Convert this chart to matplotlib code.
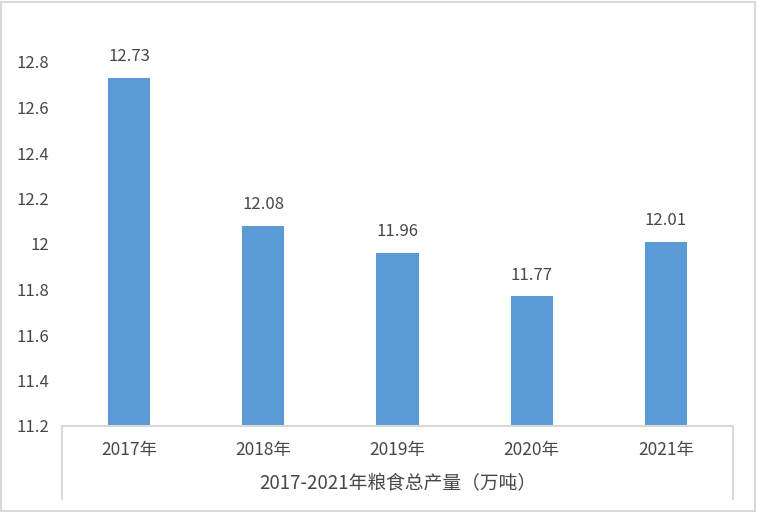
import matplotlib
matplotlib.use("Agg")
import matplotlib.pyplot as plt
from matplotlib.patches import Rectangle

plt.rcParams['font.family'] = ['Noto Sans CJK SC', 'DejaVu Sans']

categories = ["2017年", "2018年", "2019年", "2020年", "2021年"]
values = [12.73, 12.08, 11.96, 11.77, 12.01]
value_labels = ["12.73", "12.08", "11.96", "11.77", "12.01"]
group_label = "2017-2021年粮食总产量（万吨）"
yticks = [11.2, 11.4, 11.6, 11.8, 12.0, 12.2, 12.4, 12.6, 12.8]
ytick_labels = ["11.2", "11.4", "11.6", "11.8", "12", "12.2", "12.4", "12.6", "12.8"]

W, H = 757, 512
fig = plt.figure(figsize=(W / 100, H / 100), dpi=100)
fig.patch.set_facecolor("white")
fig.patches.append(Rectangle((0.5 / W, 1.5 / H), (W - 2.5) / W, (H - 3) / H,
                             transform=fig.transFigure, fill=False,
                             edgecolor="#d9d9d9", linewidth=1.5))

left, right, top, bottom = 62, 733, 62, 426
ax = fig.add_axes([left / W, 1 - bottom / H, (right - left) / W, (bottom - top) / H])

text_color = "#474747"
grid_color = "#d9d9d9"
fs = 12

x = list(range(len(categories)))
ax.bar(x, [v - 11.2 for v in values], bottom=11.2, width=0.315, color="#5B9BD5")
ax.set_xlim(-0.5, len(categories) - 0.5)
ax.set_ylim(11.2, 12.8)

for xi, v, lab in zip(x, values, value_labels):
    ax.annotate(lab, (xi, v), xytext=(0, 12), textcoords="offset points",
                ha="center", va="baseline", fontsize=fs, color=text_color,
                annotation_clip=False)

ax.set_yticks(yticks)
ax.set_yticklabels(ytick_labels, fontsize=fs, color=text_color)
ax.tick_params(axis="y", length=0, pad=9)
ax.set_xticks(x)
ax.set_xticklabels(categories, fontsize=12.5, color=text_color)
ax.tick_params(axis="x", length=0, pad=11)

for s in ["top", "right", "left"]:
    ax.spines[s].set_visible(False)
ax.spines["bottom"].set_color(grid_color)
ax.spines["bottom"].set_linewidth(1.5)

h_ax = bottom - top
ylow = -(499 - bottom) / h_ax
for xa in (0, 1):
    ax.plot([xa, xa], [0, ylow], transform=ax.transAxes, color=grid_color,
            linewidth=1.5, clip_on=False)

ax.text(0.5, -(484 - bottom) / h_ax, group_label, transform=ax.transAxes,
        ha="center", va="center", fontsize=13.5, color=text_color)

fig.savefig("out.png", dpi=100, facecolor="white")
